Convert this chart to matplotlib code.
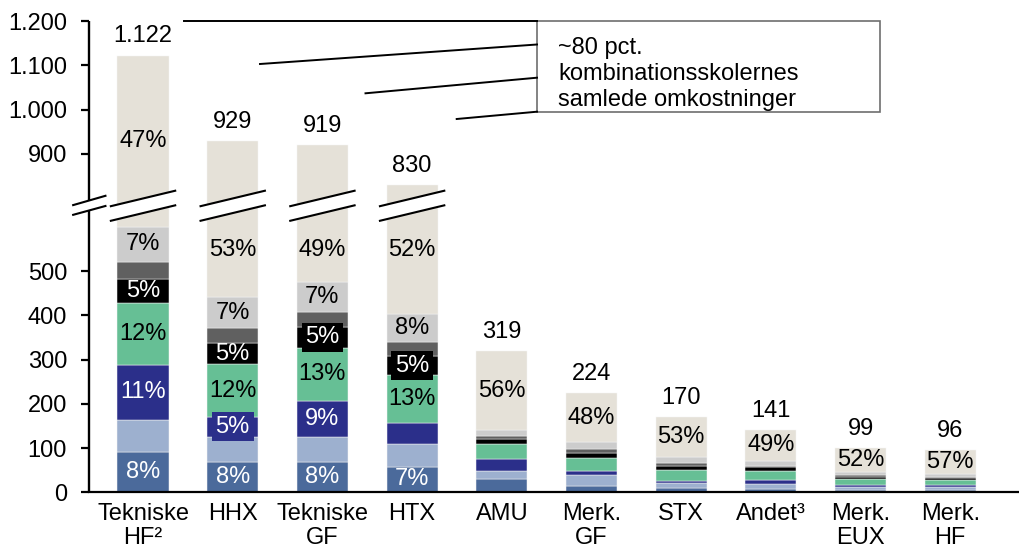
import matplotlib
matplotlib.use("Agg")
import matplotlib.pyplot as plt
import numpy as np
from matplotlib.patches import Polygon, Rectangle
from matplotlib.lines import Line2D

plt.rcParams['font.family'] = ['Liberation Sans', 'DejaVu Sans']

# ---------------- data ----------------
categories = ["Tekniske\nHF²", "HHX", "Tekniske\nGF", "HTX", "AMU",
              "Merk.\nGF", "STX", "Andet³", "Merk.\nEUX", "Merk.\nHF"]
totals = [1122, 929, 919, 830, 319, 224, 170, 141, 99, 96]

seg_blue = [92, 69, 69, 58, 30, 15, 9, 7, 5, 5]
seg_lightblue = [72, 57, 56, 52, 19, 23, 11, 12, 8, 6]
seg_navy = [124, 45, 82, 46, 27, 10, 6, 9, 4, 6]
seg_green = [140, 118, 120, 108, 34, 30, 25, 20, 13, 11]
seg_black = [53, 49, 46, 45, 10, 11, 9, 9, 5, 5]
seg_darkgray = [40, 33, 34, 30, 7, 9, 6, 3, 3, 2]
seg_lightgray = [78, 70, 68, 64, 14, 16, 14, 11, 9, 6]
seg_beige = [523, 488, 444, 427, 178, 110, 90, 70, 52, 55]

pct_blue = ["8%", "8%", "8%", "7%", "", "", "", "", "", ""]
pct_lightblue = [""] * 10
pct_navy = ["11%", "5%", "9%", "", "", "", "", "", "", ""]
pct_green = ["12%", "12%", "13%", "13%", "", "", "", "", "", ""]
pct_black = ["5%", "5%", "5%", "5%", "", "", "", "", "", ""]
pct_darkgray = [""] * 10
pct_lightgray = ["7%", "7%", "7%", "8%", "", "", "", "", "", ""]
pct_beige = ["47%", "53%", "49%", "52%", "56%", "48%", "53%", "49%", "52%", "57%"]

lower_ticks = [0, 100, 200, 300, 400, 500]
upper_ticks = [900, 1000, 1100, 1200]

box_lines = ["~80 pct.", "kombinationsskolernes", "samlede omkostninger"]

# ---------------- style / layout ----------------
colors = ["#4B6A9B", "#9DB0CF", "#2B2F8A", "#66BF95", "#000000",
          "#606060", "#CCCCCC", "#E5E1D8"]
txt_colors = ["white", "black", "white", "black", "white", "white", "black", "black"]
series = [seg_blue, seg_lightblue, seg_navy, seg_green, seg_black,
          seg_darkgray, seg_lightgray, seg_beige]
labels = [pct_blue, pct_lightblue, pct_navy, pct_green, pct_black,
          pct_darkgray, pct_lightgray, pct_beige]

OFFSET = 135        # amount removed by the axis break
BREAK_AT = 700      # values above this are shifted down
BREAK_LO, BREAK_HI, BREAK_H = 631, 664, 18
FS = 17

def disp(v):
    return v - OFFSET if v > BREAK_AT else v

def fmt(v):
    return f"{v:,}".replace(",", ".")

W, H = 1020, 550
fig = plt.figure(figsize=(W / 100, H / 100), dpi=100)
ax_left = 89.3 / W
ax = fig.add_axes([ax_left, (H - 492.3) / H, 1 - ax_left, 471.3 / H])
x0, x1 = -0.599, 9.777
ax.set_xlim(x0, x1)
ax.set_ylim(0, 1065)

x = np.arange(len(categories))
width = 0.57

bottom = np.zeros(len(categories))
for si, (vals, col, labs, tc) in enumerate(zip(series, colors, labels, txt_colors)):
    vals = np.array(vals, dtype=float)
    tops = bottom + vals
    disp_tops = np.array([disp(t) for t in tops])
    heights = disp_tops - bottom
    ax.bar(x, heights, width, bottom=bottom, color=col,
           edgecolor="#F4F4F4", linewidth=0.35, zorder=2)
    for i, lab in enumerate(labs):
        if not lab:
            continue
        b, t = bottom[i], disp_tops[i]
        if tops[i] > BREAK_AT and BREAK_LO - b >= 100:
            yc = BREAK_LO - 83
        else:
            yc = (b + t) / 2
        kw = {}
        if (t - b) < 48:
            kw["bbox"] = dict(boxstyle="square,pad=0.16", fc=col, ec="none")
        ax.text(x[i], yc, lab, ha="center", va="center", fontsize=FS,
                color=tc, zorder=7, **kw)
    bottom = disp_tops

# totals above bars
for i, tot in enumerate(totals):
    ax.annotate(fmt(tot), (x[i], disp(tot)), xytext=(0, 13.7),
                textcoords="offset points", ha="center", va="center",
                fontsize=FS, zorder=8)

# break marks on bars
bw = 0.37
for i, tot in enumerate(totals):
    if tot > BREAK_AT:
        c = x[i]
        poly = Polygon([(c - bw, BREAK_LO - BREAK_H), (c + bw, BREAK_LO + BREAK_H),
                        (c + bw, BREAK_HI + BREAK_H), (c - bw, BREAK_HI - BREAK_H)],
                       closed=True, fc="white", ec="none", zorder=5)
        ax.add_patch(poly)
        for yy in (BREAK_LO, BREAK_HI):
            ax.plot([c - bw, c + bw], [yy - BREAK_H, yy + BREAK_H], color="black",
                    lw=1.5, zorder=6, solid_capstyle="butt")

# spines
for s in ("top", "right", "left"):
    ax.spines[s].set_visible(False)
ax.spines["bottom"].set_linewidth(1.6)
ax.spines["bottom"].set_zorder(9)

# manual broken y-axis
ax.plot([x0, x0], [0, 637], color="black", lw=1.7, clip_on=False,
        solid_capstyle="butt", zorder=9)
ax.plot([x0, x0], [660, 1065], color="black", lw=1.7, clip_on=False,
        solid_capstyle="butt", zorder=9)
aw = 0.18
ax.plot([x0 - aw, x0 + aw], [627, 647], color="black", lw=1.5, clip_on=False, zorder=9)
ax.plot([x0 - aw, x0 + aw], [649, 670], color="black", lw=1.5, clip_on=False, zorder=9)

ytick_pos = lower_ticks + [disp(v) for v in upper_ticks]
ytick_lab = [fmt(v) for v in lower_ticks + upper_ticks]
ax.set_yticks(ytick_pos, ytick_lab)
ax.tick_params(axis="y", length=6, width=1.6, pad=10, labelsize=FS, direction="out")
ax.set_xticks(x, categories)
ax.tick_params(axis="x", length=0, pad=8, labelsize=FS)
for lab in ax.get_xticklabels():
    lab.set_linespacing(1.1)

# annotation box with leader lines (figure pixel layout)
def fx(px):
    return px / W

def fy(py):
    return 1 - py / H

rect = Rectangle((fx(537), fy(111.7)), fx(880) - fx(537), fy(20.7) - fy(111.7),
                 transform=fig.transFigure, fc="white", ec="#6E6E6E", lw=1.2, zorder=10)
fig.add_artist(rect)
for i, line in enumerate(box_lines):
    fig.text(fx(558), fy(48 + 26 * i), line, ha="left", va="center",
             fontsize=17, zorder=11)

leaders = [((184, 21), (537, 21)), ((260, 64), (537, 44.5)),
           ((365.5, 93.3), (537, 77.7)), ((456.7, 119), (537, 111.7))]
for (a, b) in leaders:
    fig.add_artist(Line2D([fx(a[0]), fx(b[0])], [fy(a[1]), fy(b[1])],
                          transform=fig.transFigure, color="black", lw=1.4, zorder=10))

fig.savefig("out.png", dpi=100)
